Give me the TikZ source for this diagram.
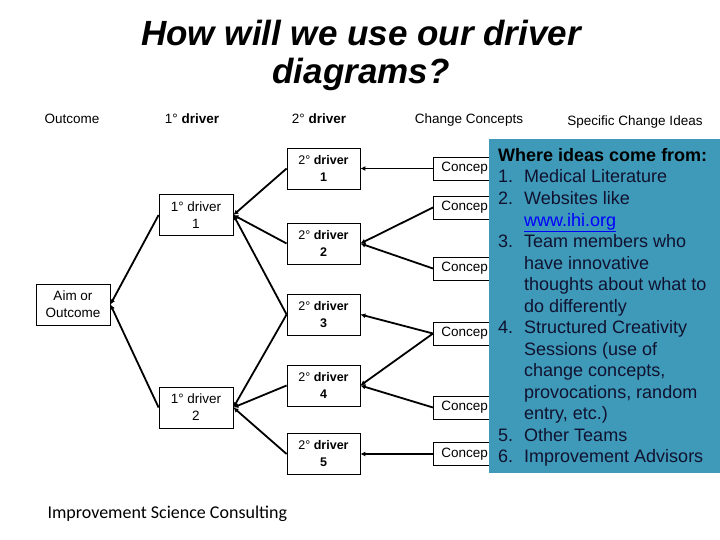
\documentclass[tikz,border=0pt]{standalone}
\usepackage{fontspec}
\setmainfont{Liberation Sans}
\newfontfamily\footfont{Carlito}
\usetikzlibrary{arrows.meta}
\definecolor{ideablue}{RGB}{62,154,184}
\definecolor{ideatext}{RGB}{16,18,48}
\tikzset{
  box/.style={draw, line width=0.8bp, minimum width=74bp, minimum height=41bp,
    align=center, inner sep=2bp, font=\fontsize{13.5bp}{17bp}\selectfont},
  subbox/.style={box, minimum width=73bp, font=\fontsize{12.5bp}{17bp}\selectfont},
  conbox/.style={draw, line width=0.8bp, anchor=west, minimum height=23bp,
    text width=56bp, inner xsep=8bp, align=left, font=\fontsize{13.5bp}{16bp}\selectfont},
  head/.style={anchor=base, font=\fontsize{13.5bp}{16bp}\selectfont},
  feed/.style={line width=1.8bp, -{Latex[length=5bp,width=5bp]}}
}
\begin{document}
\begin{tikzpicture}[x=1bp, y=-1bp]
        \useasboundingbox (0,0) rectangle (720,540);
        \node[anchor=base, align=center, font=\bfseries\itshape\fontsize{35bp}{38bp}\selectfont]
              (title) at (361,84) {How will we use our driver\\diagrams?};

        \node[head] (hout) at (72,124) {Outcome};
        \node[head] (hprim) at (192,124) {1° \textbf{driver}};
        \node[head] (hsec) at (319,124) {2° \textbf{driver}};
        \node[head] (hcon) at (469,124) {Change Concepts};
        \node[head] (hidea) at (635,126) {Specific Change Ideas};

        \node[box] (aim) at (73,304.5) {Aim or\\Outcome};
        \node[box] (p1) at (196,215) {1° driver\\1};
        \node[box] (p2) at (196,407.5) {1° driver\\2};

        \foreach \n/\y in {1/168.5, 2/243.5, 3/314.5, 4/385.5, 5/454}
          \node[subbox] (s\n) at (323.5,\y) {2° \textbf{driver}\\\textbf{\n}};

        \foreach \n/\y in {1/168.5, 2/207.5, 3/268.5, 4/333.5, 5/407.5, 6/454}
          \node[conbox] (c\n) at (433,\y) {Concep};

        \foreach \a/\b in {c1/s1, c2/s2, c3/s2, c4/s3, c4/s4, c5/s4, c6/s5}
          \draw[feed] (\a.west) -- (\b.east);
        \foreach \a/\b in {s1/p1, s2/p1, s3/p1, s3/p2, s4/p2, s5/p2}
          \draw[feed] (\a.west) -- (\b.east);
        \foreach \a in {p1, p2}
          \draw[feed] (\a.west) -- (aim.east);

        \node[fill=ideablue, anchor=north west, inner sep=0pt,
              minimum width=231bp, minimum height=334bp] (ideas) at (489,139) {};
        \node[anchor=base west, align=left, inner sep=0pt, text=ideatext,
              font=\fontsize{18bp}{21.5bp}\selectfont] (ideatxt) at (498,462.5)
              {{\bfseries\color{black}Where ideas come from:}\\
               \makebox[26bp][l]{1.}Medical Literature\\
               \makebox[26bp][l]{2.}Websites like\\
               \hspace*{26bp}\textcolor{blue}{\underline{www.ihi.org}}\\
               \makebox[26bp][l]{3.}Team members who\\
               \hspace*{26bp}have innovative\\
               \hspace*{26bp}thoughts about what to\\
               \hspace*{26bp}do differently\\
               \makebox[26bp][l]{4.}Structured Creativity\\
               \hspace*{26bp}Sessions (use of\\
               \hspace*{26bp}change concepts,\\
               \hspace*{26bp}provocations, random\\
               \hspace*{26bp}entry, etc.)\\
               \makebox[26bp][l]{5.}Other Teams\\
               \makebox[26bp][l]{6.}Improvement Advisors};

        \node[anchor=base west, font=\footfont\fontsize{18bp}{20bp}\selectfont]
              (brand) at (44,518) {Improvement Science Consulting};
\end{tikzpicture}
\end{document}
